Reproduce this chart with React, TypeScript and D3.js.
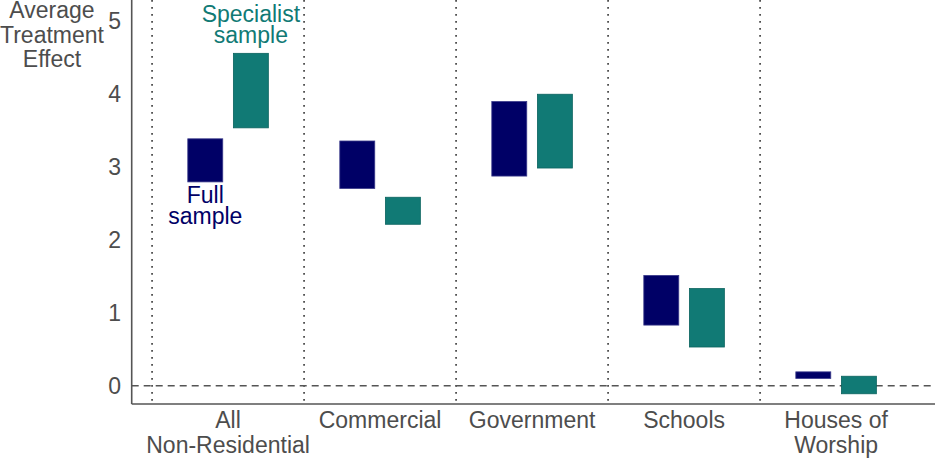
import { scaleLinear } from "d3";

const categories = ["All\nNon-Residential", "Commercial", "Government", "Schools", "Houses of\nWorship"];
const fullLow = [2.79, 2.7, 2.87, 0.83, 0.1];
const fullHigh = [3.38, 3.35, 3.89, 1.51, 0.19];
const specLow = [3.53, 2.21, 2.98, 0.53, -0.11];
const specHigh = [4.55, 2.58, 3.99, 1.33, 0.13];
const yTicks = [0, 1, 2, 3, 4, 5];

const navy = "#000066";
const teal = "#117a75";
const ink = "#4d4d4d";
const font = "'Liberation Sans', Arial, sans-serif";

export default function App() {
  const width = 935;
  const height = 459;
  const axisX = 131.7;
  const axisBottom = 404;

  const x = scaleLinear().domain([-0.634, 4.6]).range([axisX, 927.3]);
  const y = scaleLinear().domain([-0.25, 5.28]).range([axisBottom, 0]);

  const barW = x(0.23) - x(0);
  const offset = 0.15;

  const series = [
    { low: fullLow, high: fullHigh, shift: -offset, fill: navy, stroke: "#3a3a8a" },
    { low: specLow, high: specHigh, shift: offset, fill: teal, stroke: "#0b635f" },
  ];

  return (
    <div style={{ position: "absolute", left: 0, top: 0 }}>
      <svg width={width} height={height} viewBox={`0 0 ${width} ${height}`} fontFamily={font}>
        <rect width={width} height={height} fill="#ffffff" />

        {/* category separators */}
        {categories.map((_, i) => (
          <line
            key={`sep-${i}`}
            x1={x(i - 0.5)}
            x2={x(i - 0.5)}
            y1={0}
            y2={axisBottom}
            stroke="#444"
            strokeWidth={1.7}
            strokeDasharray="1.7 5.3"
          />
        ))}

        {/* zero reference */}
        <line
          x1={axisX}
          x2={width}
          y1={y(0)}
          y2={y(0)}
          stroke="#555"
          strokeWidth={1.6}
          strokeDasharray="7 5"
        />

        {series.map((s, si) =>
          categories.map((_, i) => (
            <rect
              key={`bar-${si}-${i}`}
              x={x(i + s.shift) - barW / 2}
              y={y(s.high[i])}
              width={barW}
              height={y(s.low[i]) - y(s.high[i])}
              fill={s.fill}
              stroke={s.stroke}
              strokeWidth={0.8}
            />
          ))
        )}

        {/* axes */}
        <line x1={axisX} x2={axisX} y1={0} y2={axisBottom} stroke="#555" strokeWidth={1.6} />
        <line x1={axisX} x2={width} y1={axisBottom} y2={axisBottom} stroke="#555" strokeWidth={1.6} />

        {yTicks.map((t) => (
          <text
            key={`yt-${t}`}
            x={121}
            y={y(t)}
            dy="0.36em"
            textAnchor="end"
            fontSize={23}
            fill={ink}
          >
            {t}
          </text>
        ))}

        <text textAnchor="middle" fontSize={23} fill={ink}>
          {["Average", "Treatment", "Effect"].map((w, i) => (
            <tspan key={w} x={52} y={18 + i * 24.6}>
              {w}
            </tspan>
          ))}
        </text>

        {categories.map((c, i) => (
          <text key={`cat-${i}`} textAnchor="middle" fontSize={23} fill={ink}>
            {c.split("\n").map((ln, j) => (
              <tspan key={ln} x={x(i)} y={428 + j * 25}>
                {ln}
              </tspan>
            ))}
          </text>
        ))}

        {/* series annotations */}
        <text textAnchor="middle" fontSize={23} fill={teal}>
          <tspan x={x(offset)} y={21.5}>Specialist</tspan>
          <tspan x={x(offset)} y={42.5}>sample</tspan>
        </text>
        <text textAnchor="middle" fontSize={23} fill={navy}>
          <tspan x={x(-offset)} y={203.3}>Full</tspan>
          <tspan x={x(-offset)} y={224.3}>sample</tspan>
        </text>
      </svg>
    </div>
  );
}
